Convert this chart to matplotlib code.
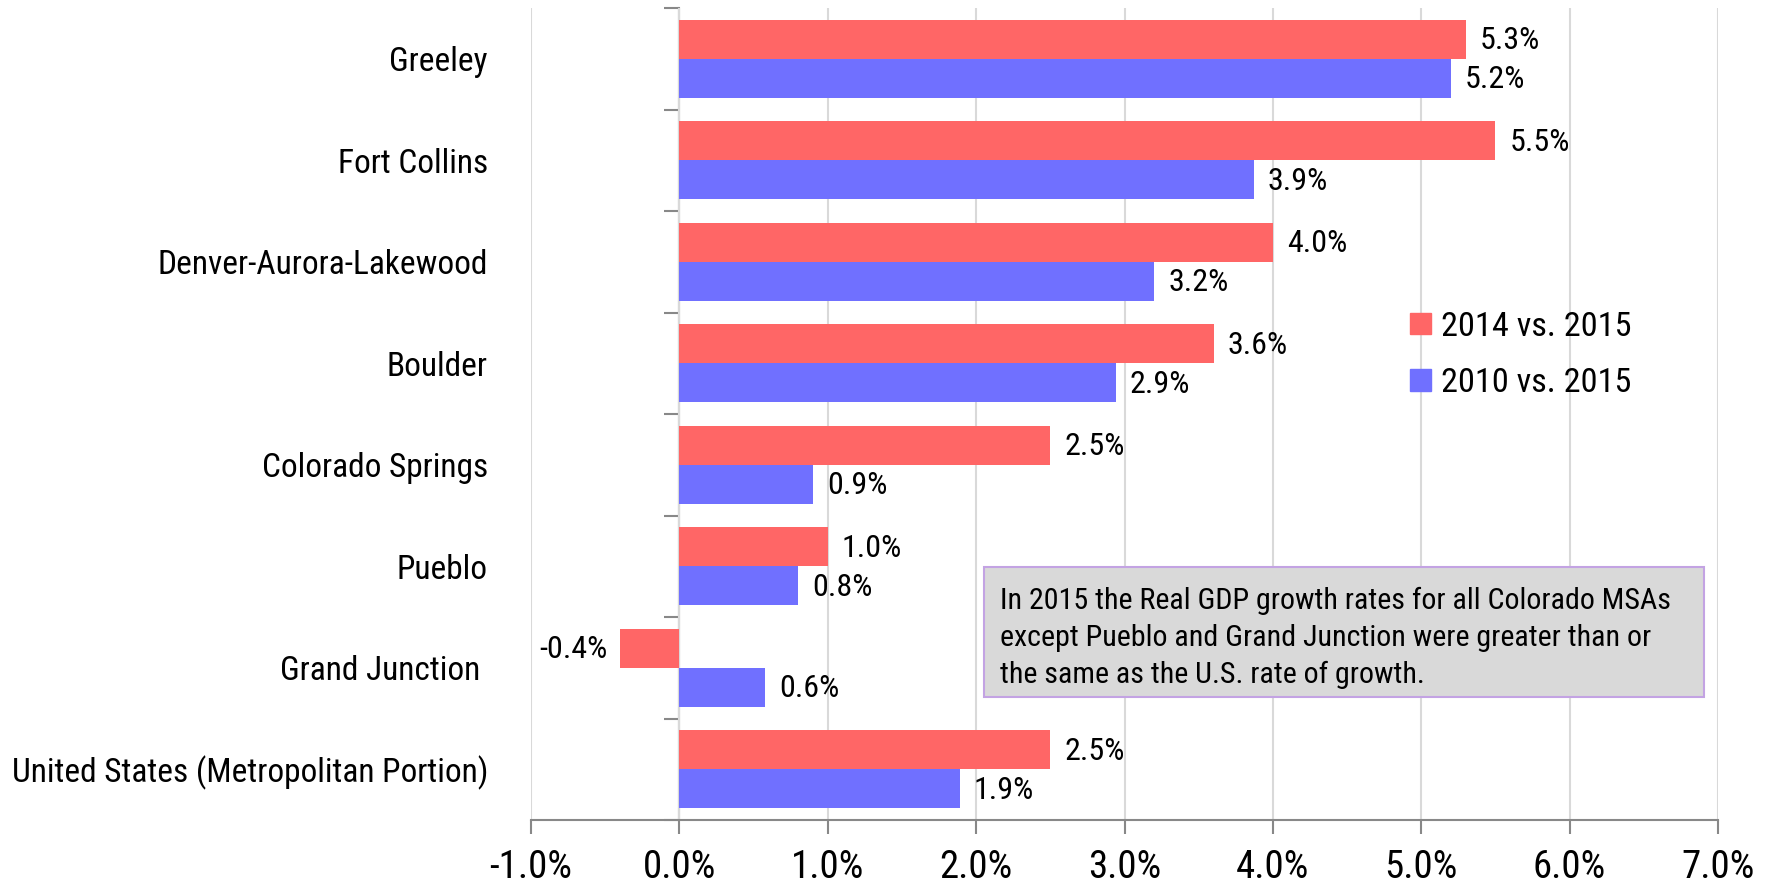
import numpy as np
import matplotlib
matplotlib.use("Agg")
import matplotlib.pyplot as plt
from matplotlib import font_manager as fm
from matplotlib.patches import Patch, Rectangle

categories = ["Greeley", "Fort Collins", "Denver-Aurora-Lakewood", "Boulder",
              "Colorado Springs", "Pueblo", "Grand Junction ",
              "United States (Metropolitan Portion)"]
growth_2014_2015 = [5.3, 5.5, 4.0, 3.6, 2.5, 1.0, -0.4, 2.5]
growth_2010_2015 = [5.2, 3.87, 3.2, 2.94, 0.9, 0.8, 0.58, 1.89]
series_labels = ["2014 vs. 2015", "2010 vs. 2015"]
xticks = [-1, 0, 1, 2, 3, 4, 5, 6, 7]
note = ("In 2015 the Real GDP growth rates for all Colorado MSAs\n"
        "except Pueblo and Grand Junction were greater than or\n"
        "the same as the U.S. rate of growth.")

# look for a narrow / condensed sans font
cands = []
for f in fm.fontManager.ttflist:
    low = (f.name + " " + f.fname).lower()
    if f.style != "normal" or "bold" in low or "italic" in low or "light" in low \
            or "semibold" in low or "medium" in low or "black" in low or "thin" in low \
            or "extra" in low:
        continue
    if "narrow" in low or "condensed" in low or str(f.stretch) in ("condensed", "semi-condensed"):
        cands.append(f)
pref = ["liberation sans narrow", "arial narrow", "roboto condensed", "open sans condensed",
        "noto sans", "dejavu sans"]
def rank(f):
    low = (f.name + " " + f.fname).lower()
    for i, p in enumerate(pref):
        if p in low or p.replace(" ", "") in low:
            return i
    return 99
cands.sort(key=rank)
FP_FILE = cands[0].fname if cands else None
plt.rcParams["font.family"] = ["Liberation Sans", "DejaVu Sans"]

def fp(size):
    if FP_FILE:
        return fm.FontProperties(fname=FP_FILE, size=size)
    return fm.FontProperties(family=["Liberation Sans", "DejaVu Sans"], size=size * 0.82)

RED = "#FF6666"
BLUE = "#7070FF"
GRID = "#D9D9D9"
AX = "#888888"

W, H = 1768, 884
fig = plt.figure(figsize=(W / 100, H / 100), dpi=100)
ax = fig.add_axes([531 / W, 1 - 820 / H, (1718 - 531) / W, (820 - 8) / H])

n = len(categories)
y = np.arange(n)
h = 0.385
b1 = ax.barh(y - h / 2, growth_2014_2015, height=h, color=RED, zorder=2)
b2 = ax.barh(y + h / 2, growth_2010_2015, height=h, color=BLUE, zorder=2)

for bars in (b1, b2):
    for r in bars:
        v = r.get_width()
        yc = r.get_y() + r.get_height() / 2
        if v >= 0:
            ax.annotate(f"{v:.1f}%", (v, yc), xytext=(10, -1), textcoords="offset points",
                        ha="left", va="center", fontproperties=fp(23))
        else:
            ax.annotate(f"{v:.1f}%", (v, yc), xytext=(-9, -1), textcoords="offset points",
                        ha="right", va="center", fontproperties=fp(23))

ax.set_xlim(xticks[0], xticks[-1])
ax.set_ylim(n - 0.5, -0.5)
ax.set_xticks(xticks)
ax.set_xticklabels([f"{t:.1f}%" for t in xticks], fontproperties=fp(28))
ax.set_yticks(y)
ax.set_yticklabels(categories, fontproperties=fp(24))
ax.tick_params(axis="y", length=0, pad=31)
ax.tick_params(axis="x", length=10, width=1.5, color=AX, pad=11)
ax.xaxis.grid(True, color=GRID, lw=1.5)
ax.set_axisbelow(True)
for s in ("top", "right", "left"):
    ax.spines[s].set_visible(False)
ax.spines["bottom"].set_color(AX)
ax.spines["bottom"].set_linewidth(1.5)

loc0 = (0 - xticks[0]) / (xticks[-1] - xticks[0])
sec = ax.secondary_yaxis(loc0)
sec.set_yticks(np.arange(n + 1) - 0.5)
sec.set_yticklabels([""] * (n + 1))
sec.tick_params(length=11, width=1.5, color=AX)
sec.spines["left"].set_color(AX)
sec.spines["left"].set_linewidth(1.5)

handles = [Patch(color=RED), Patch(color=BLUE)]
fig.legend(handles, series_labels, loc="center left",
           bbox_to_anchor=(1410 / W, 1 - 355 / H), bbox_transform=fig.transFigure,
           frameon=False, prop=fp(24.7), handlelength=0.6, handleheight=0.6,
           handletextpad=0.3, labelspacing=0.72, borderpad=0, borderaxespad=0)

fig.patches.append(Rectangle((984 / W, 1 - 697 / H), (1704 - 984) / W, (697 - 567) / H,
                             transform=fig.transFigure, facecolor="#D9D9D9",
                             edgecolor="#C3A3E3", lw=1.5, zorder=5))
fig.text(1000 / W, 1 - 638 / H, note, ha="left", va="center", fontproperties=fp(21.6),
         linespacing=1.42, zorder=6)

fig.savefig("out.png", dpi=100)
